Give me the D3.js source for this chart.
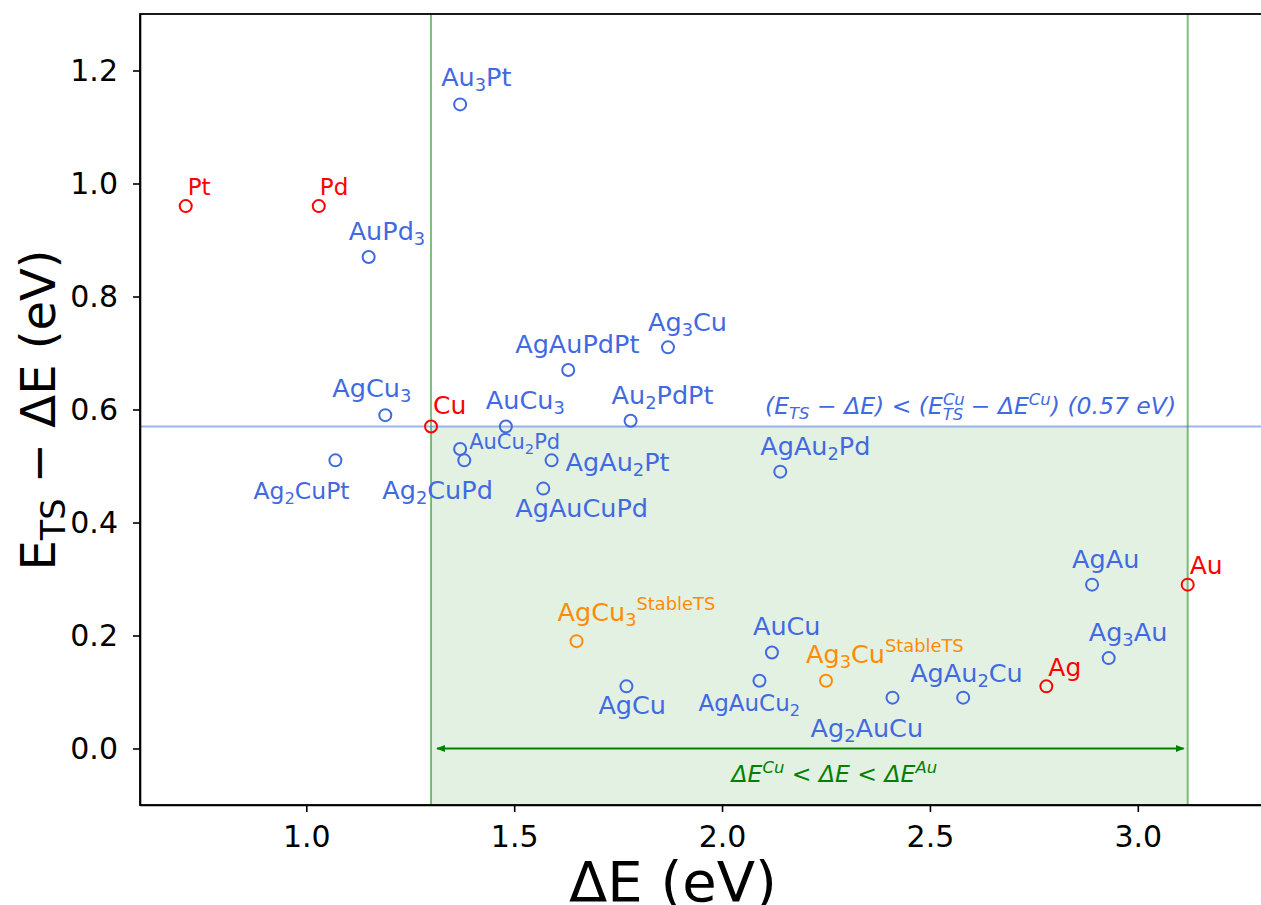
<html>
<head>
    <style>
        body { margin: 0; background: #fff; }
        svg text { font-family: "DejaVu Sans", sans-serif; }
        .axis text { font-size: 30px; fill: #000; }
        .axis path, .axis line { stroke: #000; stroke-width: 1.6px; }
    </style>
    <script src="https://d3js.org/d3.v7.min.js"></script>
</head>
<body>
    <svg width="1261" height="905"></svg>
    <script>

        // compositions (digits are shown as subscripts)
        var names = ["Pt", "Pd", "Cu", "Au", "Ag",
                     "AuPd3", "Au3Pt", "AgCu3", "Ag2CuPt", "AuCu2Pd", "Ag2CuPd", "AuCu3",
                     "AgAu2Pt", "AgAuCuPd", "AgAuPdPt", "Ag3Cu", "Au2PdPt", "AgAu2Pd",
                     "AgAu", "Ag3Au", "AgAu2Cu", "Ag2AuCu", "AuCu", "AgAuCu2", "AgCu",
                     "AgCu3", "Ag3Cu"];
        var superscripts = ["", "", "", "", "",
                            "", "", "", "", "", "", "",
                            "", "", "", "", "", "",
                            "", "", "", "", "", "", "",
                            "StableTS", "StableTS"];
        var groups = ["pure", "pure", "pure", "pure", "pure",
                      "alloy", "alloy", "alloy", "alloy", "alloy", "alloy", "alloy",
                      "alloy", "alloy", "alloy", "alloy", "alloy", "alloy",
                      "alloy", "alloy", "alloy", "alloy", "alloy", "alloy", "alloy",
                      "stable", "stable"];
        var deltaE = [0.71, 1.03, 1.30, 3.12, 2.78,
                      1.15, 1.37, 1.19, 1.07, 1.37, 1.38, 1.48,
                      1.59, 1.57, 1.63, 1.87, 1.78, 2.14,
                      2.89, 2.93, 2.58, 2.41, 2.12, 2.09, 1.77,
                      1.65, 2.25];
        var etsMinusDeltaE = [0.96, 0.96, 0.57, 0.29, 0.11,
                              0.87, 1.14, 0.59, 0.51, 0.53, 0.51, 0.57,
                              0.51, 0.46, 0.67, 0.71, 0.58, 0.49,
                              0.29, 0.16, 0.09, 0.09, 0.17, 0.12, 0.11,
                              0.19, 0.12];
        var xTicks = [1.0, 1.5, 2.0, 2.5, 3.0];
        var yTicks = [0.0, 0.2, 0.4, 0.6, 0.8, 1.0, 1.2];
        var cuRef = 1.30, auRef = 3.12, cuLevel = 0.57;

        // label placement relative to each marker (px) and font size
        var labelOffsets = [[2, -11], [1, -11], [2, -12], [2, -11], [2, -10],
                            [-20, -17], [-19, -18], [-53, -18], [-82, 39], [9, 0], [-82, 39], [-20, -17],
                            [14, 11], [-28, 28], [-53, -17], [-20, -16], [-19, -17], [-20, -17],
                            [-20, -17], [-20, -17], [-53, -16], [-82, 39], [-19, -17], [-61, 30], [-28, 28],
                            [-19, -20], [-20, -18]];
        var labelSizes = [23, 23, 25, 25, 25,
                          25.5, 25.5, 25.5, 23.5, 21, 25.5, 25.5,
                          25.5, 25.5, 25.5, 25.5, 25.5, 25.5,
                          25.5, 25.5, 25.5, 25.5, 25.5, 23, 25.5,
                          25.5, 25.5];

        var colors = { pure: "#ff0000", alloy: "#4169e1", stable: "#ff8c00" };

        var svg = d3.select("svg"),
            plotLeft = 140, plotTop = 14, plotBottom = 805;

        var x = d3.scaleLinear().domain([0.6, 3.3]).range([plotLeft, plotLeft + 2.7 * 415.75]);
        var y = d3.scaleLinear().domain([-0.1, 1.3]).range([plotBottom, plotTop]);

        var defs = svg.append("defs");
        defs.append("clipPath").attr("id", "plot")
            .append("rect")
            .attr("x", x(0.6)).attr("y", y(1.3))
            .attr("width", x(3.3) - x(0.6)).attr("height", y(-0.1) - y(1.3));

        defs.append("marker")
            .attr("id", "arrow")
            .attr("viewBox", "0 0 10 10")
            .attr("refX", 9).attr("refY", 5)
            .attr("markerWidth", 4).attr("markerHeight", 4)
            .attr("orient", "auto-start-reverse")
            .append("path")
            .attr("d", "M0,1 L10,5 L0,9 Z")
            .attr("fill", "#008000");

        var plot = svg.append("g").attr("clip-path", "url(#plot)");

        // shaded region
        plot.append("rect")
            .attr("x", x(cuRef)).attr("y", y(cuLevel))
            .attr("width", x(auRef) - x(cuRef))
            .attr("height", y(-0.1) - y(cuLevel))
            .attr("fill", "#008000").attr("fill-opacity", 0.11);

        [cuRef, auRef].forEach(function(v) {
            plot.append("line")
                .attr("x1", x(v)).attr("x2", x(v))
                .attr("y1", y(-0.1)).attr("y2", y(1.3))
                .attr("stroke", "#008000").attr("stroke-opacity", 0.5)
                .attr("stroke-width", 2);
        });

        plot.append("line")
            .attr("x1", x(0.6)).attr("x2", x(3.3))
            .attr("y1", y(cuLevel)).attr("y2", y(cuLevel))
            .attr("stroke", "#4169e1").attr("stroke-opacity", 0.5)
            .attr("stroke-width", 2);

        // double arrow for the window
        plot.append("line")
            .attr("x1", x(cuRef) + 6).attr("x2", x(auRef) - 4)
            .attr("y1", y(0)).attr("y2", y(0))
            .attr("stroke", "#008000").attr("stroke-width", 2.2)
            .attr("marker-start", "url(#arrow)")
            .attr("marker-end", "url(#arrow)");

        var win = plot.append("text")
            .attr("x", x(2.27)).attr("y", y(0) + 33)
            .attr("text-anchor", "middle")
            .attr("font-size", 23.5).attr("font-style", "italic")
            .attr("fill", "#008000");
        win.append("tspan").text("ΔE");
        win.append("tspan").attr("font-size", "70%").attr("dy", -9).text("Cu");
        win.append("tspan").attr("dy", 9).text(" < ΔE < ΔE");
        win.append("tspan").attr("font-size", "70%").attr("dy", -9).text("Au");

        var lvl = plot.append("text")
            .attr("x", 765).attr("y", y(cuLevel) - 12)
            .attr("font-size", 23.5).attr("font-style", "italic")
            .attr("fill", "#4169e1");
        lvl.append("tspan").text("(E");
        lvl.append("tspan").attr("font-size", "70%").attr("dy", 5).text("TS");
        lvl.append("tspan").attr("dy", -5).text(" − ΔE) < (E");
        lvl.append("tspan").attr("font-size", "70%").attr("dy", -9).text("Cu");
        lvl.append("tspan").attr("font-size", "70%").attr("dx", -22).attr("dy", 15).text("TS");
        lvl.append("tspan").attr("dy", -6).text(" − ΔE");
        lvl.append("tspan").attr("font-size", "70%").attr("dy", -9).text("Cu");
        lvl.append("tspan").attr("dy", 9).text(") (0.57 eV)");

        // axes
        svg.append("g")
            .attr("class", "axis")
            .attr("transform", "translate(0," + plotBottom + ")")
            .call(d3.axisBottom(x).tickValues(xTicks).tickFormat(d3.format(".1f"))
                  .tickSize(7).tickPadding(14).tickSizeOuter(0));

        svg.append("g")
            .attr("class", "axis")
            .attr("transform", "translate(" + plotLeft + ",0)")
            .call(d3.axisLeft(y).tickValues(yTicks).tickFormat(d3.format(".1f"))
                  .tickSize(7).tickPadding(15).tickSizeOuter(0));

        // frame
        svg.append("rect")
            .attr("x", x(0.6)).attr("y", y(1.3))
            .attr("width", x(3.3) - x(0.6)).attr("height", y(-0.1) - y(1.3))
            .attr("fill", "none").attr("stroke", "#000").attr("stroke-width", 1.8);

        // points
        var rows = names.map(function(n, i) {
            return { name: n, sup: superscripts[i], group: groups[i],
                     x: deltaE[i], y: etsMinusDeltaE[i],
                     off: labelOffsets[i], size: labelSizes[i] };
        });

        plot.selectAll("circle.pt")
            .data(rows)
            .enter().append("circle")
            .attr("class", "pt")
            .attr("cx", function(d) { return x(d.x); })
            .attr("cy", function(d) { return y(d.y); })
            .attr("r", 6)
            .attr("fill", "none")
            .attr("stroke", function(d) { return colors[d.group]; })
            .attr("stroke-width", 2);

        var labels = plot.selectAll("text.lab")
            .data(rows)
            .enter().append("text")
            .attr("class", "lab")
            .attr("x", function(d) { return x(d.x) + d.off[0]; })
            .attr("y", function(d) { return y(d.y) + d.off[1]; })
            .attr("font-size", function(d) { return d.size; })
            .attr("fill", function(d) { return colors[d.group]; });

        labels.each(function(d) {
            var t = d3.select(this);
            var parts = d.name.match(/[A-Za-z]+|\d+/g);
            var shifted = 0;
            parts.forEach(function(p) {
                if (/\d/.test(p)) {
                    t.append("tspan").attr("font-size", "70%").attr("dy", 5 - shifted).text(p);
                    shifted = 5;
                } else {
                    t.append("tspan").attr("dy", -shifted).text(p);
                    shifted = 0;
                }
            });
            if (d.sup) {
                t.append("tspan").attr("font-size", "70%").attr("dy", -shifted - 11).text(d.sup);
            }
        });

        // axis titles
        svg.append("text")
            .attr("x", 673).attr("y", 901)
            .attr("text-anchor", "middle")
            .attr("font-size", 56)
            .text("ΔE (eV)");

        var yl = svg.append("text")
            .attr("transform", "translate(55," + 410 + ") rotate(-90)")
            .attr("text-anchor", "middle")
            .attr("font-size", 48);
        yl.append("tspan").text("E");
        yl.append("tspan").attr("font-size", "70%").attr("dy", 10).text("TS");
        yl.append("tspan").attr("dy", -10).text(" − ΔE (eV)");
    </script>
</body>
</html>
